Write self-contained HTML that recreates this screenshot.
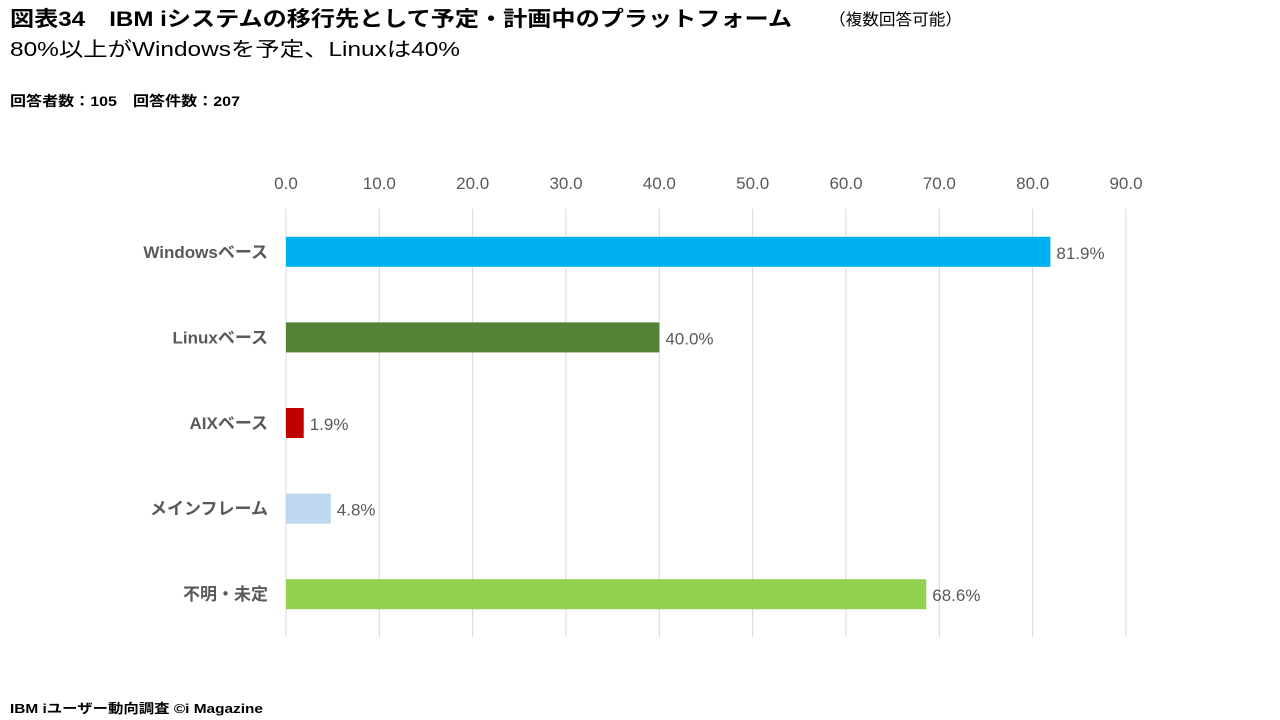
<!DOCTYPE html>
<html><head><meta charset="utf-8"><style>
body{margin:0;background:#fff;}
svg{display:block;font-family:"Liberation Sans","Noto Sans CJK JP",sans-serif;}
</style></head><body>
<svg id="c" width="1280" height="720">
<text x="10" y="26" font-size="21" font-weight="bold" fill="#000" textLength="782" lengthAdjust="spacingAndGlyphs">図表34　IBM iシステムの移行先として予定・計画中のプラットフォーム</text>
<text x="829" y="25" font-size="16" fill="#000" textLength="133" lengthAdjust="spacingAndGlyphs">（複数回答可能）</text>
<text x="10" y="56" font-size="20" fill="#000" textLength="450" lengthAdjust="spacingAndGlyphs">80%以上がWindowsを予定、Linuxは40%</text>
<text x="10" y="106" font-size="14" font-weight="bold" fill="#000" textLength="230" lengthAdjust="spacingAndGlyphs">回答者数：105　回答件数：207</text>
<text x="10" y="713" font-size="13" font-weight="bold" fill="#000" textLength="253" lengthAdjust="spacingAndGlyphs">IBM iユーザー動向調査 ©i Magazine</text>
<g id="plot"></g>
</svg>
<script>
const categories=["Windowsベース","Linuxベース","AIXベース","メインフレーム","不明・未定"];
const values=[81.9,40.0,1.9,4.8,68.6];
const colors=["#00b0f0","#548235","#c00000","#bdd7ee","#92d050"];
const ticks=[0,10,20,30,40,50,60,70,80,90];
const NS="http://www.w3.org/2000/svg";
const g=document.getElementById('plot');
const x0=286,x1=1126,yTop=209,yBottom=637;
const xs=v=>x0+v*(x1-x0)/90;
const band=(yBottom-yTop)/categories.length;
const yc=i=>yTop+band*(i+0.5);
function mk(t,a,txt){const e=document.createElementNS(NS,t);for(const k in a)e.setAttribute(k,a[k]);if(txt!==undefined)e.textContent=txt;g.appendChild(e);return e;}
ticks.forEach(t=>{
 const l=mk('line',{x1:xs(t),x2:xs(t),y1:yTop,y2:yBottom,stroke:'#d9d9d9','stroke-width':1});
 
 
 const tx=mk('text',{x:xs(t),y:189,'font-size':17,fill:'#595959','text-anchor':'middle'},t.toFixed(1));
 
 
});
categories.forEach((c,i)=>{
 const r=mk('rect',{x:xs(0),y:yc(i)-15,width:xs(values[i])-xs(0),height:30,fill:colors[i]});
 
 
 const lb=mk('text',{x:268,y:yc(i)+6,'font-size':17,'font-weight':'bold',fill:'#595959','text-anchor':'end'},c);
 
 
 const v=mk('text',{x:xs(values[i])+6,y:yc(i)+7,'font-size':17,fill:'#595959'},values[i].toFixed(1)+'%');
 
 
});
</script>
</body></html>
